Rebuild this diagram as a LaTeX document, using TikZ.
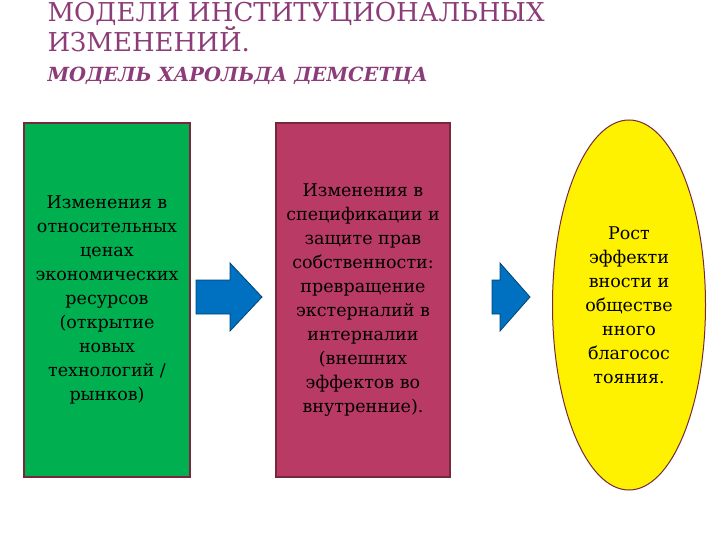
\documentclass[tikz,border=0pt]{standalone}
\usepackage{fontspec}
\setmainfont{DejaVu Serif}
\usetikzlibrary{shapes.geometric}
\definecolor{ttl}{RGB}{140,60,120}
\definecolor{grn}{RGB}{0,176,80}
\definecolor{mag}{RGB}{186,58,102}
\definecolor{brd}{RGB}{120,40,60}
\definecolor{blu}{RGB}{0,112,192}
\tikzset{box/.style={draw=brd,line width=1.5pt,inner sep=0pt,align=center,font=\fontsize{17.5}{24}\selectfont},
 barrow/.style={draw=blu!60!black,fill=blu,line width=0.8pt}}
\begin{document}
\begin{tikzpicture}[x=1pt,y=-1pt]
\useasboundingbox (0,0) rectangle (720,540);
\node[anchor=base west,text=ttl,font=\fontsize{26}{28}\selectfont] (t1) at (44,22) {МОДЕЛИ ИНСТИТУЦИОНАЛЬНЫХ};
\node[anchor=base west,text=ttl,font=\fontsize{26}{28}\selectfont] (t2) at (44,52) {ИЗМЕНЕНИЙ.};
\node[anchor=base west,text=ttl,font=\fontsize{19.5}{20}\bfseries\itshape\selectfont] (t3) at (44,82) {МОДЕЛЬ ХАРОЛЬДА ДЕМСЕТЦА};
\node[box,fill=grn,minimum width=166pt,minimum height=354pt] (g) at (107,300) {Изменения в\\относительных\\ценах\\экономических\\ресурсов\\(открытие\\новых\\технологий /\\рынков)};
\node[box,fill=mag,minimum width=174pt,minimum height=354pt] (m) at (363,300) {Изменения в\\спецификации и\\защите прав\\собственности:\\превращение\\экстерналий в\\интерналии\\(внешних\\эффектов во\\внутренние).};
\node[draw=brd,line width=1pt,fill=yellow,ellipse,minimum width=153pt,minimum height=370pt,inner sep=0pt,align=center,font=\fontsize{17.5}{24}\selectfont] (e) at (629,305) {Рост\\эффекти\\вности и\\обществе\\нного\\благосос\\тояния.};
\draw[barrow] (196,280) -- (230,280) -- (230,263) -- (262,297) -- (230,331) -- (230,314) -- (196,314) -- cycle;
\draw[barrow] (492,280) -- (500,280) -- (500,263) -- (530,297) -- (500,331) -- (500,314) -- (492,314) -- cycle;
\end{tikzpicture}
\end{document}
